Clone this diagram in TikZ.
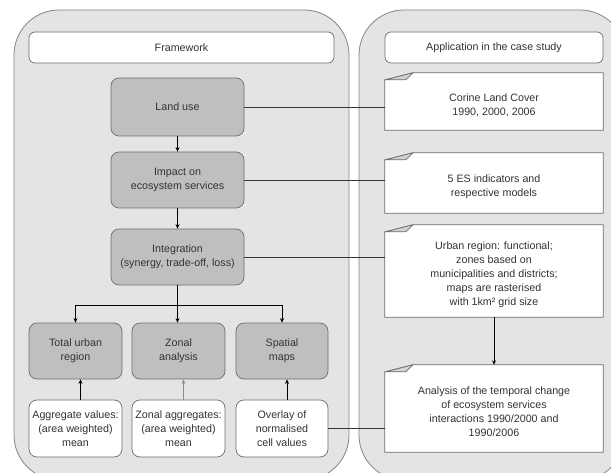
\documentclass[tikz,border=0pt]{standalone}
\usepackage{fontspec}
\setmainfont{Liberation Sans}
\usetikzlibrary{arrows.meta,calc}
\definecolor{panelfill}{HTML}{E4E4E4}
\definecolor{boxfill}{HTML}{BFBFBF}
\definecolor{edge}{HTML}{6E6E6E}
\definecolor{txt}{HTML}{333333}
\definecolor{foldfill}{HTML}{D4D4D4}
\definecolor{softarrow}{HTML}{8C8C8C}

% outline of a note sheet with a curled top-left corner, around node #1
\newcommand{\notecurl}[1]{%
  \fill[white] (#1.north west) -- ($(#1.north west)+(28,-7)$)
    -- ($(#1.north east)+(0,-7)$) -- (#1.north east) -- cycle;
  \draw[noteline] (#1.south west) -- (#1.north west)
    -- ($(#1.north west)+(28,-7)$) -- ($(#1.north east)+(0,-7)$)
    -- (#1.south east) -- cycle;
  \filldraw[noteline, fill=foldfill] ($(#1.north west)+(1,0)$)
    -- ($(#1.north west)+(28,-7)$) -- ($(#1.north west)+(21,0)$) -- cycle;
}

\begin{document}
\begin{tikzpicture}[x=1pt, y=-1pt,
  font=\fontsize{10.7}{14}\selectfont, text=txt,
  panel/.style={draw=edge!85, fill=panelfill, line width=0.8pt, rounded corners=45pt},
  titlebox/.style={draw=edge, fill=white, line width=0.7pt, rounded corners=6pt,
    minimum height=31pt, inner sep=0pt},
  graybox/.style={draw=edge, fill=boxfill, line width=0.7pt, rounded corners=8pt,
    align=center, inner sep=0pt, minimum height=56pt},
  whitebox/.style={draw=edge, fill=white, line width=0.7pt, rounded corners=8pt,
    align=center, inner sep=0pt, minimum height=57pt},
  notebody/.style={fill=white, minimum width=218pt, inner sep=0pt, align=center},
  noteline/.style={draw=edge, line width=0.7pt, line join=miter},
  arr/.style={draw=black, line width=0.8pt, -{Stealth[length=4.5pt, width=4pt]}},
  link/.style={draw=black!80, line width=0.5pt}
]
\useasboundingbox (0,0) rectangle (611,473);
\clip (0,0) rectangle (611,473);

% the two panels
\path[panel] (14,10) rectangle (349,480);
\path[panel] (359,10) rectangle (625,480);

% panel headings
\node[titlebox, minimum width=305pt] (fw) at (181.5,47.5) {Framework};
\node[titlebox, minimum width=218pt] (app) at (494,47.5) {Application in the case study};

% framework chain
\node[graybox, minimum width=133pt, minimum height=58pt] (land) at (177.5,107) {Land use};
\node[graybox, minimum width=133pt] (impact) at (177.5,180) {Impact on\\ecosystem services};
\node[graybox, minimum width=133pt] (integ) at (177.5,257) {Integration\\(synergy, trade-off, loss)};

% aggregation levels
\node[graybox, minimum width=93pt] (total) at (75.5,351) {Total urban\\region};
\node[graybox, minimum width=93pt] (zonal) at (178.5,351) {Zonal\\analysis};
\node[graybox, minimum width=92pt] (spatial) at (282,351) {Spatial\\maps};

\node[whitebox, minimum width=93pt] (aggr) at (75.5,428.5) {Aggregate values:\\(area weighted)\\mean};
\node[whitebox, minimum width=93pt] (zagg) at (178.5,428.5) {Zonal aggregates:\\(area weighted)\\mean};
\node[whitebox, minimum width=92pt] (overlay) at (282,428.5) {Overlay of\\normalised\\cell values};

% case study notes
\node[notebody, minimum height=50pt] (clc) at (494,105) {Corine Land Cover\\1990, 2000, 2006};
\notecurl{clc}
\node[notebody, minimum height=53pt] (esi) at (494,186.5) {5 ES indicators and\\respective models};
\notecurl{esi}
\node[notebody, minimum height=85pt] (urb) at (494,274.5) {Urban region: functional;\\zones based on\\municipalities and districts;\\maps are rasterised\\with 1km² grid size};
\notecurl{urb}
\node[notebody, minimum height=80pt] (ana) at (494,412) {Analysis of the temporal change\\of ecosystem services\\interactions 1990/2000 and\\1990/2006};
\notecurl{ana}

% arrows inside the framework
\draw[arr] (land.south) -- (impact.north);
\draw[arr] (impact.south) -- (integ.north);
\draw[arr] (integ.south) -- (integ.south |- zonal.north);
\coordinate (split) at ($(integ.south)+(0,20)$);
\draw[arr] (split) -| (total.north);
\draw[arr] (split) -| (spatial.north);

\draw[arr] ([xshift=5pt]aggr.north) -- ([xshift=5pt]total.south);
\draw[arr, draw=softarrow] ([xshift=5pt]zagg.north) -- ([xshift=5pt]zonal.south);
\draw[arr] ([xshift=5pt]overlay.north) -- ([xshift=5pt]spatial.south);

% links between framework and case study
\draw[link] (land.east) -- (land.east -| clc.west);
\draw[link] (impact.east) -- (impact.east -| esi.west);
\draw[link] (integ.east) -- (integ.east -| urb.west);
\draw[link] (overlay.east) -- (overlay.east -| ana.west);
\draw[arr] (urb.south) -- ($(ana.north)+(0,-7)$);
\end{tikzpicture}
\end{document}
